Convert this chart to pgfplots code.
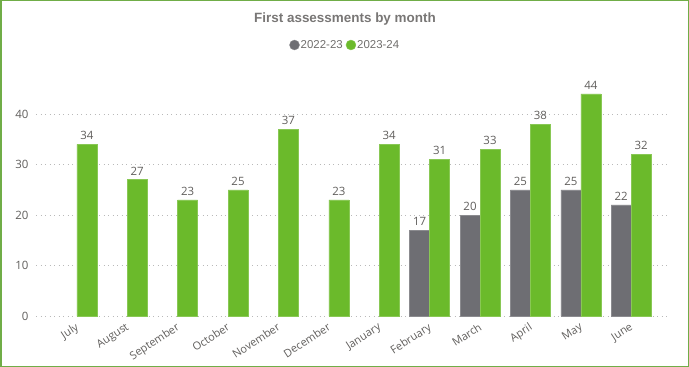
\documentclass[border=0pt]{standalone}
\usepackage{pgfplots}
\pgfplotsset{compat=1.18}
\usepackage{fontspec}
\setmainfont{Open Sans}
\newfontfamily\arialf{Liberation Sans}
\definecolor{bargreen}{HTML}{6BBA2B}
\definecolor{bargrey}{HTML}{6E6E73}
\definecolor{framegreen}{HTML}{70AD47}
\definecolor{txtgrey}{HTML}{605E5C}
\begin{document}
\begin{tikzpicture}
\useasboundingbox (0,0) rectangle (689bp,367bp);
\draw[framegreen, line width=1.5bp] (0.75bp,0.75bp) rectangle (688.25bp,366.25bp);
\node[font=\arialf\bfseries\fontsize{13.5}{15}\selectfont, text=txtgrey!85] at (345bp,348bp) {First assessments by month};
\begin{axis}[
  at={(36bp,51bp)}, anchor=south west,
  scale only axis, width=634bp, height=242.4bp,
  xmin=-0.81, xmax=11.77, ymin=0, ymax=48,
  axis line style={draw=none},
  major tick length=0pt,
  ytick={0,10,20,30,40},
  ymajorgrids, grid style={dash pattern=on 1bp off 3.5bp, gray!55, line width=0.9bp},
  xtick={0,...,11},
  xticklabels={July,August,September,October,November,December,January,February,March,April,May,June},
  x tick label style={rotate=33, anchor=north east, font=\fontsize{11}{12}\selectfont, text=txtgrey, xshift=-4bp, yshift=-3bp, inner sep=1bp},
  y tick label style={font=\fontsize{11.5}{12}\selectfont, text=txtgrey, xshift=-4bp},
  /pgf/number format/assume math mode=true,
  ybar, bar width=20bp,
  nodes near coords,
  every node near coord/.append style={font=\fontsize{11.5}{12}\selectfont, text=txtgrey, /pgf/number format/assume math mode=true, yshift=1bp},
  legend style={at={(0.487,1.118)}, anchor=center, draw=none, fill=none, legend columns=2,
    font=\arialf\fontsize{11.5}{12}\selectfont, text=txtgrey!90, inner sep=0pt,
    /tikz/every even column/.append style={column sep=2bp},
    nodes={inner sep=1bp}},
  legend image code/.code={\fill[#1] (0.25cm,0cm) circle (5bp);},
  clip=false,
]
\addplot[fill=bargrey, draw=bargrey!80!white, line width=0.4bp, bar shift=-10bp] coordinates {(7,17) (8,20) (9,25) (10,25) (11,22)};
\addplot[fill=bargreen, draw=bargreen!80!white, line width=0.4bp, bar shift=10bp] coordinates {(0,34) (1,27) (2,23) (3,25) (4,37) (5,23) (6,34) (7,31) (8,33) (9,38) (10,44) (11,32)};
\legend{2022-23,2023-24}
\end{axis}
\end{tikzpicture}
\end{document}
